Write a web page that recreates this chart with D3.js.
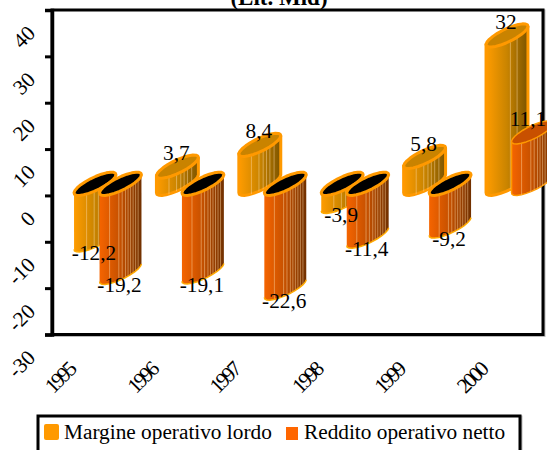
<!DOCTYPE html>
<html><head><meta charset="utf-8">
<script src="https://cdn.jsdelivr.net/npm/d3@7/dist/d3.min.js"></script>
<style>html,body{margin:0;padding:0;background:#fff;overflow:hidden}svg{display:block}text{font-family:"Liberation Serif",serif;fill:#000}</style>
</head><body><script>
const years = ["1995","1996","1997","1998","1999","2000"];
const seriesNames = ["Margine operativo lordo","Reddito operativo netto"];
const margine = [-12.2,3.7,8.4,-3.9,5.8,32];
const reddito = [-19.2,-19.1,-22.6,-11.4,-9.2,11.1];
const yTicks = [40,30,20,10,0,-10,-20,-30];
const title = "(Lit. Mld)";
const colors = ["#ff9900","#ff6600"];
const capColors = ["#c98300","#c85000"];
const gradStops = [["#ff9c00","#c98400","#7c5400"],["#f56400","#c45000","#703000"]];
const stripeSets = [[.3,.48,.58,.66,.74,.84],[.24,.46,.54,.62,.68,.74,.8,.86,.92]];

const W=547,H=450;
const m={l:52,t:10,r:543,b:334.5};
const fs="21.3px";
const svg=d3.select("body").append("svg").attr("width",W).attr("height",H);
const defs=svg.append("defs");
const y=d3.scaleLinear().domain([-30,40]).range([m.b,m.t]);
const x=d3.scalePoint().domain(years).range([74,486]);
const xs=d3.scaleBand().domain(seriesNames).range([0,51]);
const barW=42, capA=[20.5,-10.5], capB=[4.5,5];
const fmt=v=>String(v).replace(".",",");

gradStops.forEach((s,i)=>{
  const g=defs.append("linearGradient").attr("id","g"+i);
  g.selectAll("stop").data(s).join("stop").attr("offset",(d,j)=>j/2).attr("stop-color",d=>d);
});

svg.append("text").attr("x",279).attr("y",5).attr("text-anchor","middle")
  .style("font-size","23px").style("font-weight","bold").text(title);

svg.append("rect").attr("x",m.l+1).attr("y",m.t+1).attr("width",m.r-m.l).attr("height",m.b-m.t)
  .attr("fill","none").attr("stroke","#bbb").attr("stroke-width",3);
svg.append("rect").attr("x",m.l).attr("y",m.t).attr("width",m.r-m.l).attr("height",m.b-m.t)
  .attr("fill","#fff").attr("stroke","#000").attr("stroke-width",3);

const ax=svg.append("g").attr("transform",`translate(${m.l},0)`)
  .call(d3.axisLeft(y).tickValues(yTicks).tickSize(7).tickFormat(d=>d));
ax.select(".domain").attr("stroke-width",3.5).attr("stroke","#000");
ax.selectAll(".tick line").attr("stroke","#000").attr("stroke-width",3);
ax.selectAll(".tick text").attr("x",null).attr("dy",null).attr("y",null)
  .attr("text-anchor","end")
  .attr("transform","translate(-15.5,24) rotate(-45)")
  .style("font-size",fs).style("font-family",'"Liberation Serif",serif').attr("fill","#000");

const xAxis=svg.append("g");
xAxis.selectAll("text").data(years).join("text")
  .attr("text-anchor","middle").style("font-size",fs).attr("letter-spacing","-2.5")
  .attr("transform",d=>`translate(${x(d)-9},${383}) rotate(-45)`).text(d=>d);

function capPts(cx,cy){
  return d3.range(0,24).map(i=>{const t=i/24*2*Math.PI;
    return [cx+Math.cos(t)*capA[0]+Math.sin(t)*capB[0], cy+Math.cos(t)*capA[1]+Math.sin(t)*capB[1]];});
}
const polyClosed=d3.line().curve(d3.curveLinearClosed);
const polyOpen=d3.line();

const bars=[];
years.forEach((yr,i)=>{
  bars.push({yr,s:0,name:seriesNames[0],v:margine[i]});
  bars.push({yr,s:1,name:seriesNames[1],v:reddito[i]});
});
const ySpan=Math.hypot(capA[1],capB[1]);

bars.forEach((b,k)=>{
  const x0=x(b.yr)+xs(b.name), cx=x0+barW/2;
  const topV=Math.max(b.v,0), botV=Math.min(b.v,0);
  const cyTop=y(topV)-ySpan, cyBot=y(botV)-ySpan;
  const top=capPts(cx,cyTop), bot=capPts(cx,cyBot);
  const iR=d3.greatestIndex(bot,p=>p[0]), iL=d3.leastIndex(bot,p=>p[0]);
  const lower=[]; for(let j=iR;;j=(j+1)%24){lower.push(bot[j]); if(j===iL)break;}
  const tL=top[iL], tR=top[iR];
  const outline=[...lower,tL,tR];
  const g=svg.append("g");
  const cid="c"+k;
  defs.append("clipPath").attr("id",cid).append("path").attr("d",polyClosed(outline));
  const body=g.append("path").attr("d",polyClosed(outline)).attr("fill",`url(#g${b.s})`);
  if(b.v>0) body.attr("stroke",colors[0]).attr("stroke-linejoin","round").attr("stroke-width",b.s?1.5:3);
  const st=b.v===32?[.58,.74]:stripeSets[b.s];
  g.append("g").attr("clip-path",`url(#${cid})`).selectAll("line").data(st).join("line")
    .attr("x1",d=>x0+d*barW).attr("x2",d=>x0+d*barW).attr("y1",y(topV)-30).attr("y2",y(botV)+5)
    .attr("stroke","#ffdca8").attr("stroke-opacity",.45).attr("stroke-width",1);
  if(b.v<0) g.append("path").attr("d",polyOpen(lower)).attr("fill","none")
    .attr("stroke","#ffaa00").attr("stroke-width",1.5);
  g.append("path").attr("d",polyClosed(top))
    .attr("fill",b.v<0?"#000":capColors[b.s])
    .attr("stroke",colors[0]).attr("stroke-linejoin","round").attr("stroke-width",b.v>0&&b.s?1.5:3);
});

svg.append("g").selectAll("text").data(bars).join("text")
  .attr("text-anchor","middle").style("font-size",fs)
  .attr("x",d=>Math.min(x(d.yr)+xs(d.name)+barW/2-1,528))
  .attr("y",d=>y(d.v)+(d.v<0?8:-18))
  .text(d=>fmt(d.v));

svg.append("rect").attr("x",39).attr("y",417).attr("width",482).attr("height",50).attr("fill","none").attr("stroke","#bbb").attr("stroke-width",3);
svg.append("rect").attr("x",38).attr("y",416).attr("width",482).attr("height",50).attr("fill","#fff").attr("stroke","#000").attr("stroke-width",3);
const lg=[{x:44,w:15,top:424,tx:64},{x:286,w:12,top:427,tx:304}];
seriesNames.forEach((n,i)=>{
  svg.append("rect").attr("x",lg[i].x).attr("y",lg[i].top).attr("width",lg[i].w).attr("height",440-lg[i].top).attr("rx",i?0:2).attr("fill",colors[i]);
  svg.append("text").attr("x",lg[i].tx).attr("y",439).style("font-size",fs).text(n);
});
</script></body></html>
